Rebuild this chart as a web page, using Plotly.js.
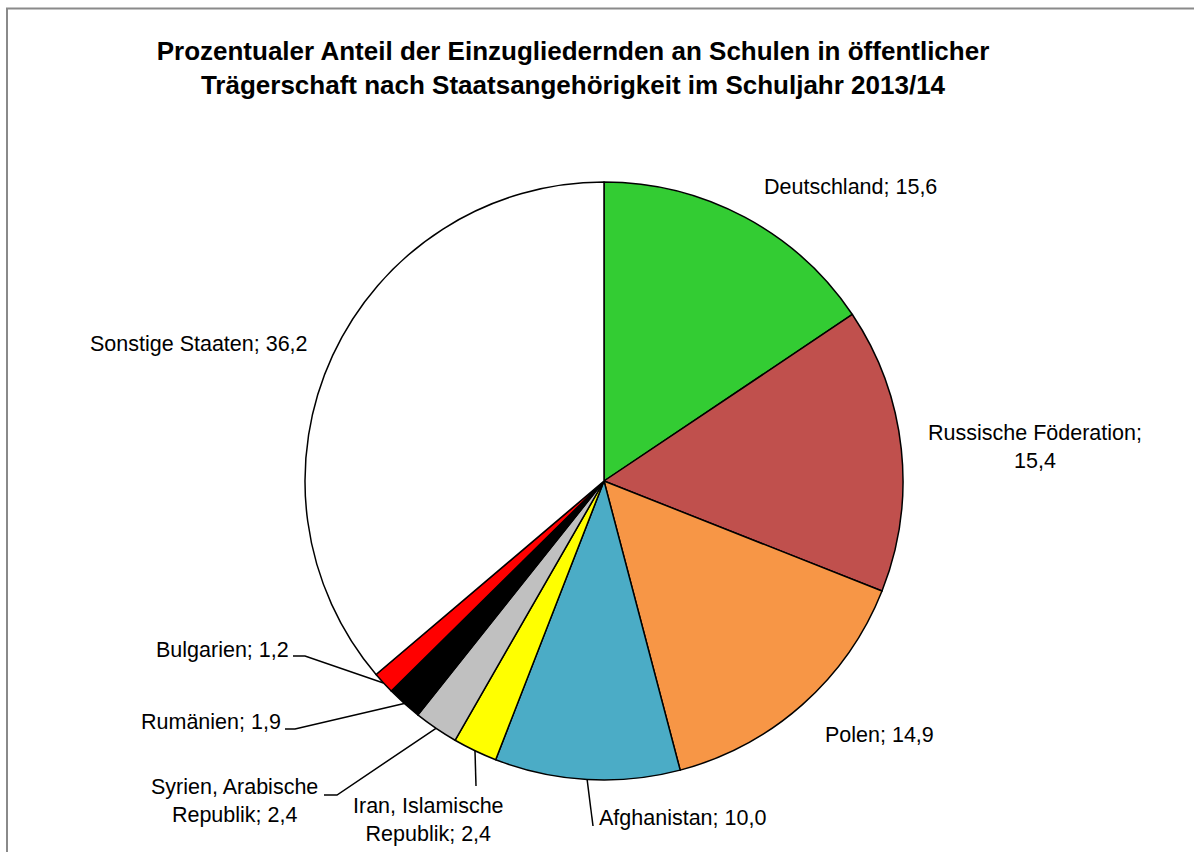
<!DOCTYPE html>
<html>
<head>
<meta charset="utf-8">
<script src="https://cdn.plot.ly/plotly-3.0.1.min.js"></script>
<style>
html,body{margin:0;padding:0;background:#fff;}
#chart{width:1194px;height:852px;}
</style>
</head>
<body>
<div id="chart"></div>
<script>
// ---- data ----
const countries = ["Deutschland", "Russische Föderation", "Polen", "Afghanistan",
  "Iran, Islamische Republik", "Syrien, Arabische Republik", "Rumänien", "Bulgarien", "Sonstige Staaten"];
const shares = [15.6, 15.4, 14.9, 10.0, 2.4, 2.4, 1.9, 1.2, 36.2];
const labelTexts = ["Deutschland; 15,6", "Russische Föderation;<br>15,4", "Polen; 14,9", "Afghanistan; 10,0",
  "Iran, Islamische<br>Republik; 2,4", "Syrien, Arabische<br>Republik; 2,4", "Rumänien; 1,9", "Bulgarien; 1,2",
  "Sonstige Staaten; 36,2"];
const colors = ["#33CC33", "#C0504D", "#F79646", "#4BACC6", "#FFFF00", "#C0C0C0", "#000000", "#FF0000", "#FFFFFF"];

// ---- layout geometry (pixels) ----
const W = 1194, H = 852;
const CX = 604, CY = 481, R = 299;
const FONT = '"Liberation Sans Narrow", "Arial Narrow", "Liberation Sans", Arial, sans-serif';
const px = x => x / W;
const py = y => 1 - y / H;

// label placement: [x, y, xanchor], and leader line elbow points (pixels) or null
const labelPos = [
  [762, 187, "left"],
  [1035, 447, "center"],
  [823, 735, "left"],
  [597, 818, "left"],
  [428, 820, "center"],
  [234, 801, "center"],
  [283, 722, "right"],
  [291, 650, "right"],
  [310, 344, "right"]
];
const leaders = [
  null, null, null,
  [[593, 826]],
  [[476, 786]],
  [[337, 795], [324, 795]],
  [[295, 729], [285, 729]],
  [[305, 656], [293, 656]],
  null
];

const total = shares.reduce((a, b) => a + b, 0);
let cum = 0;
const shapes = [];
const annotations = [];
shares.forEach((v, i) => {
  const mid = (cum + v / 2) / total;
  cum += v;
  const ang = mid * 2 * Math.PI; // clockwise from 12 o'clock
  const sx = CX + R * Math.sin(ang);
  const sy = CY - R * Math.cos(ang);
  if (leaders[i]) {
    let d = `M ${px(sx)} ${py(sy)}`;
    leaders[i].forEach(p => { d += ` L ${px(p[0])} ${py(p[1])}`; });
    shapes.push({type: "path", xref: "paper", yref: "paper", path: d,
      line: {color: "#000", width: 1.5}});
  }
  const lp = labelPos[i];
  annotations.push({
    xref: "paper", yref: "paper", x: px(lp[0]), y: py(lp[1]),
    xanchor: lp[2], yanchor: "middle", align: "center",
    text: labelTexts[i], showarrow: false,
    font: {family: FONT, size: 21.5, color: "#000"}
  });
});

// frame lines
shapes.push({type: "line", xref: "paper", yref: "paper", x0: px(6), x1: px(1194), y0: py(8.5), y1: py(8.5),
  line: {color: "#8a8a8a", width: 2}});
shapes.push({type: "line", xref: "paper", yref: "paper", x0: px(7), x1: px(7), y0: py(8), y1: py(852),
  line: {color: "#8a8a8a", width: 2}});

const trace = {
  type: "pie",
  labels: countries,
  values: shares,
  sort: false,
  direction: "clockwise",
  rotation: 0,
  textinfo: "none",
  hoverinfo: "label+value",
  marker: {colors: colors, line: {color: "#000", width: 1.5}},
  domain: {x: [px(CX - R), px(CX + R)], y: [py(CY + R), py(CY - R)]},
  showlegend: false
};

const layout = {
  width: W, height: H,
  margin: {l: 0, r: 0, t: 0, b: 0},
  paper_bgcolor: "#fff",
  showlegend: false,
  title: {
    text: "<b>Prozentualer Anteil der Einzugliedernden an Schulen in öffentlicher<br>Trägerschaft nach Staatsangehörigkeit im Schuljahr 2013/14</b>",
    x: px(573), y: py(60), xref: "paper", yref: "paper",
    xanchor: "center", yanchor: "middle",
    font: {family: FONT, size: 26, color: "#000"}
  },
  shapes: shapes,
  annotations: annotations
};

Plotly.newPlot("chart", [trace], layout, {displayModeBar: false, staticPlot: true});
</script>
</body>
</html>
